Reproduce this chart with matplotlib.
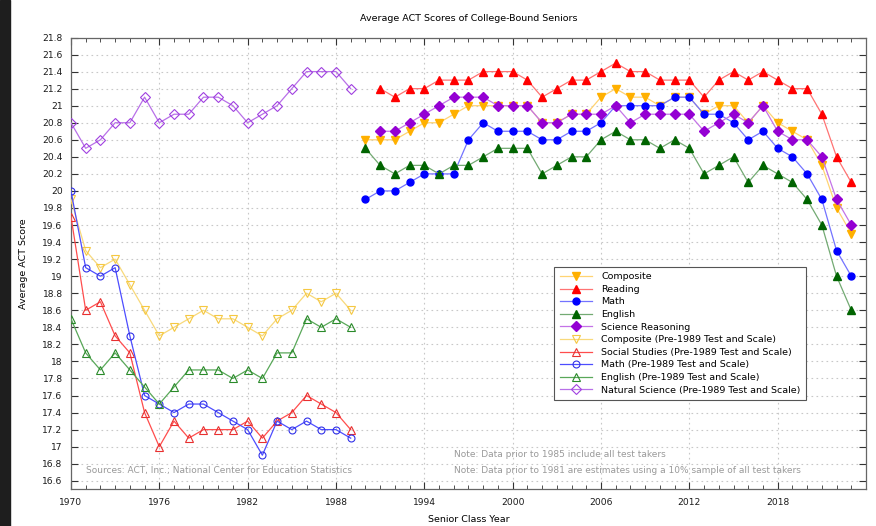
import matplotlib.pyplot as plt
import matplotlib.patches as mpatches
from matplotlib.ticker import MultipleLocator, FuncFormatter
import numpy as np

# Pre-1989 test and scale (1970-1989)
old_years = list(range(1970, 1990))
old_composite = [19.9, 19.3, 19.1, 19.2, 18.9, 18.6, 18.3, 18.4, 18.5, 18.6,
                 18.5, 18.5, 18.4, 18.3, 18.5, 18.6, 18.8, 18.7, 18.8, 18.6]
old_social = [19.7, 18.6, 18.7, 18.3, 18.1, 17.4, 17.0, 17.3, 17.1, 17.2,
              17.2, 17.2, 17.3, 17.1, 17.3, 17.4, 17.6, 17.5, 17.4, 17.2]
old_math = [20.0, 19.1, 19.0, 19.1, 18.3, 17.6, 17.5, 17.4, 17.5, 17.5,
            17.4, 17.3, 17.2, 16.9, 17.3, 17.2, 17.3, 17.2, 17.2, 17.1]
old_english = [18.5, 18.1, 17.9, 18.1, 17.9, 17.7, 17.5, 17.7, 17.9, 17.9,
               17.9, 17.8, 17.9, 17.8, 18.1, 18.1, 18.5, 18.4, 18.5, 18.4]
old_natsci = [20.8, 20.5, 20.6, 20.8, 20.8, 21.1, 20.8, 20.9, 20.9, 21.1,
              21.1, 21.0, 20.8, 20.9, 21.0, 21.2, 21.4, 21.4, 21.4, 21.2]

# Current test (1990-2023)
new_years = list(range(1990, 2024))
composite = [20.6, 20.6, 20.6, 20.7, 20.8, 20.8, 20.9, 21.0, 21.0, 21.0,
             21.0, 21.0, 20.8, 20.8, 20.9, 20.9, 21.1, 21.2, 21.1, 21.1,
             21.0, 21.1, 21.1, 20.9, 21.0, 21.0, 20.8, 21.0, 20.8, 20.7,
             20.6, 20.3, 19.8, 19.5]
math = [19.9, 20.0, 20.0, 20.1, 20.2, 20.2, 20.2, 20.6, 20.8, 20.7,
        20.7, 20.7, 20.6, 20.6, 20.7, 20.7, 20.8, 21.0, 21.0, 21.0,
        21.0, 21.1, 21.1, 20.9, 20.9, 20.8, 20.6, 20.7, 20.5, 20.4,
        20.2, 19.9, 19.3, 19.0]
english = [20.5, 20.3, 20.2, 20.3, 20.3, 20.2, 20.3, 20.3, 20.4, 20.5,
           20.5, 20.5, 20.2, 20.3, 20.4, 20.4, 20.6, 20.7, 20.6, 20.6,
           20.5, 20.6, 20.5, 20.2, 20.3, 20.4, 20.1, 20.3, 20.2, 20.1,
           19.9, 19.6, 19.0, 18.6]
reading_years = list(range(1991, 2024))
reading = [21.2, 21.1, 21.2, 21.2, 21.3, 21.3, 21.3, 21.4, 21.4, 21.4,
           21.3, 21.1, 21.2, 21.3, 21.3, 21.4, 21.5, 21.4, 21.4, 21.3,
           21.3, 21.3, 21.1, 21.3, 21.4, 21.3, 21.4, 21.3, 21.2, 21.2,
           20.9, 20.4, 20.1]
science_years = list(range(1991, 2024))
science = [20.7, 20.7, 20.8, 20.9, 21.0, 21.1, 21.1, 21.1, 21.0, 21.0,
           21.0, 20.8, 20.8, 20.9, 20.9, 20.9, 21.0, 20.8, 20.9, 20.9,
           20.9, 20.9, 20.7, 20.8, 20.9, 20.8, 21.0, 20.7, 20.6, 20.6,
           20.4, 19.9, 19.6]

YELLOW = "#ffb000"
RED = "#ff0000"
BLUE = "#0000ff"
GREEN = "#006400"
PURPLE = "#9400d3"


def light(c, a=0.55):
    rgb = np.array(plt.matplotlib.colors.to_rgb(c))
    return tuple(rgb * a + (1 - a))


plt.rcParams["font.size"] = 6.5

fig = plt.figure(figsize=(8.76, 5.26), dpi=100)
ax = fig.add_axes([0.081, 0.0698, 0.9076, 0.8589])

# dark strip at the left edge of the screenshot
fig.patches.append(mpatches.Rectangle((0, 0), 10 / 876, 1, transform=fig.transFigure,
                                      color="#1e1e1e", zorder=0))

tri, circ, dia = 6, 5, 4.8
ax.plot(new_years, composite, color=light(YELLOW), lw=0.9, marker="v", ms=tri,
        mfc=YELLOW, mec=YELLOW, label="Composite", zorder=3)
ax.plot(reading_years, reading, color=light(RED), lw=0.9, marker="^", ms=tri,
        mfc=RED, mec=RED, label="Reading", zorder=3)
ax.plot(new_years, math, color=light(BLUE), lw=0.9, marker="o", ms=circ,
        mfc=BLUE, mec=BLUE, label="Math", zorder=3)
ax.plot(new_years, english, color=light(GREEN), lw=0.9, marker="^", ms=tri,
        mfc=GREEN, mec=GREEN, label="English", zorder=3)
ax.plot(science_years, science, color=light(PURPLE), lw=0.9, marker="D", ms=dia,
        mfc=PURPLE, mec=PURPLE, label="Science Reasoning", zorder=3)

old_yellow = "#f5c842"
ax.plot(old_years, old_composite, color=light(old_yellow, 0.7), lw=0.9, marker="v", ms=tri,
        mfc="none", mec=old_yellow, mew=0.8, label="Composite (Pre-1989 Test and Scale)", zorder=3)
ax.plot(old_years, old_social, color=light(RED, 0.7), lw=0.9, marker="^", ms=tri,
        mfc="none", mec="#e83030", mew=0.8, label="Social Studies (Pre-1989 Test and Scale)", zorder=3)
ax.plot(old_years, old_math, color=light(BLUE, 0.7), lw=0.9, marker="o", ms=circ,
        mfc="none", mec="#3030e8", mew=0.8, label="Math (Pre-1989 Test and Scale)", zorder=3)
ax.plot(old_years, old_english, color=light("#228b22", 0.75), lw=0.9, marker="^", ms=tri,
        mfc="none", mec="#2a8a2a", mew=0.8, label="English (Pre-1989 Test and Scale)", zorder=3)
ax.plot(old_years, old_natsci, color=light("#a040e0", 0.75), lw=0.9, marker="D", ms=dia,
        mfc="none", mec="#a040e0", mew=0.8, label="Natural Science (Pre-1989 Test and Scale)", zorder=3)

ax.set_xlim(1970, 2024)
ax.set_ylim(16.5, 21.8)
ax.set_xticks(range(1970, 2024, 6))
ax.xaxis.set_minor_locator(MultipleLocator(1))
ax.yaxis.set_major_locator(MultipleLocator(0.2))
ax.yaxis.set_major_formatter(FuncFormatter(lambda v, p: ("%.1f" % v).rstrip("0").rstrip(".")))
ax.tick_params(which="both", direction="in", top=True, right=True, colors="#333333",
               labelcolor="#1a1a1a", labelsize=6.6)
ax.tick_params(which="major", length=5, width=0.8, pad=6)
ax.tick_params(which="minor", length=3, width=0.6)
ax.grid(True, which="major", linestyle=(0, (1.5, 3)), color="#c8c8c8", lw=0.8)
ax.set_axisbelow(True)
for s in ax.spines.values():
    s.set_color("#666666")
    s.set_linewidth(0.9)

ax.set_title("Average ACT Scores of College-Bound Seniors", fontsize=6.8, pad=12)
ax.set_xlabel("Senior Class Year", fontsize=6.8, labelpad=6)
ax.set_ylabel("Average ACT Score", fontsize=6.8, labelpad=10)

ax.text(1971, 16.72, "Sources: ACT, Inc.; National Center for Education Statistics",
        color="#999999", fontsize=6.5, va="center")
ax.text(1996.0, 16.91, "Note: Data prior to 1985 include all test takers",
        color="#999999", fontsize=6.5, va="center")
ax.text(1996.0, 16.72, "Note: Data prior to 1981 are estimates using a 10% sample of all test takers",
        color="#999999", fontsize=6.5, va="center")

leg = ax.legend(loc="lower right", bbox_to_anchor=(0.925, 0.197), fontsize=6.8,
                frameon=True, fancybox=False, framealpha=1, edgecolor="#555555",
                handlelength=3.4, handletextpad=1.0, labelspacing=0.38,
                borderpad=0.6, borderaxespad=0)
leg.get_frame().set_linewidth(0.8)

plt.savefig("out.png", dpi=100)
